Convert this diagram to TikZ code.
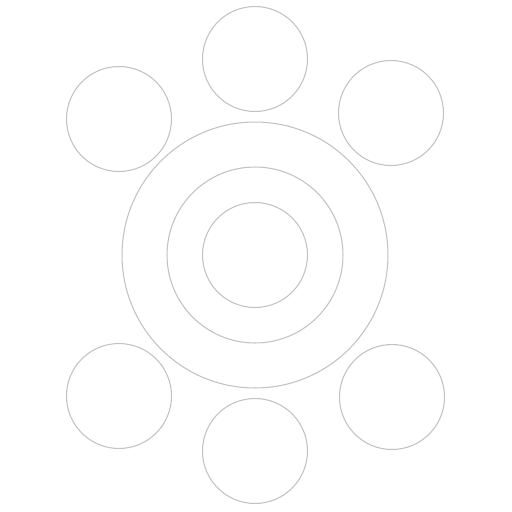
\documentclass[tikz,border=0pt]{standalone}
\usepackage{xcolor}
\usepackage{tikz}
\definecolor{RingGray}{HTML}{C2C2C2}
\tikzset{
  ring/.style={draw=RingGray, line width=0.6pt, circle, inner sep=0pt},
  petal/.style={ring, minimum size=2.1cm},
  core/.style={ring, minimum size=2.1cm},
  middle/.style={ring, minimum size=3.52cm},
  outer/.style={ring, minimum size=5.32cm}
}
\begin{document}
\begin{tikzpicture}[x=0.02cm, y=-0.02cm]
  \useasboundingbox (0,0) rectangle (512,512);
  % centre rings
  \node[outer]  (outer)  at (255,255) {};
  \node[middle] (middle) at (255,255) {};
  \node[core]   (core)   at (255,255) {};
  % petals
  \node[petal] (top)        at (255,59)  {};
  \node[petal] (upperleft)  at (119,119) {};
  \node[petal] (upperright) at (391,113) {};
  \node[petal] (lowerleft)  at (119,396) {};
  \node[petal] (lowerright) at (392,397) {};
  \node[petal] (bottom)     at (255,451) {};
\end{tikzpicture}
\end{document}
